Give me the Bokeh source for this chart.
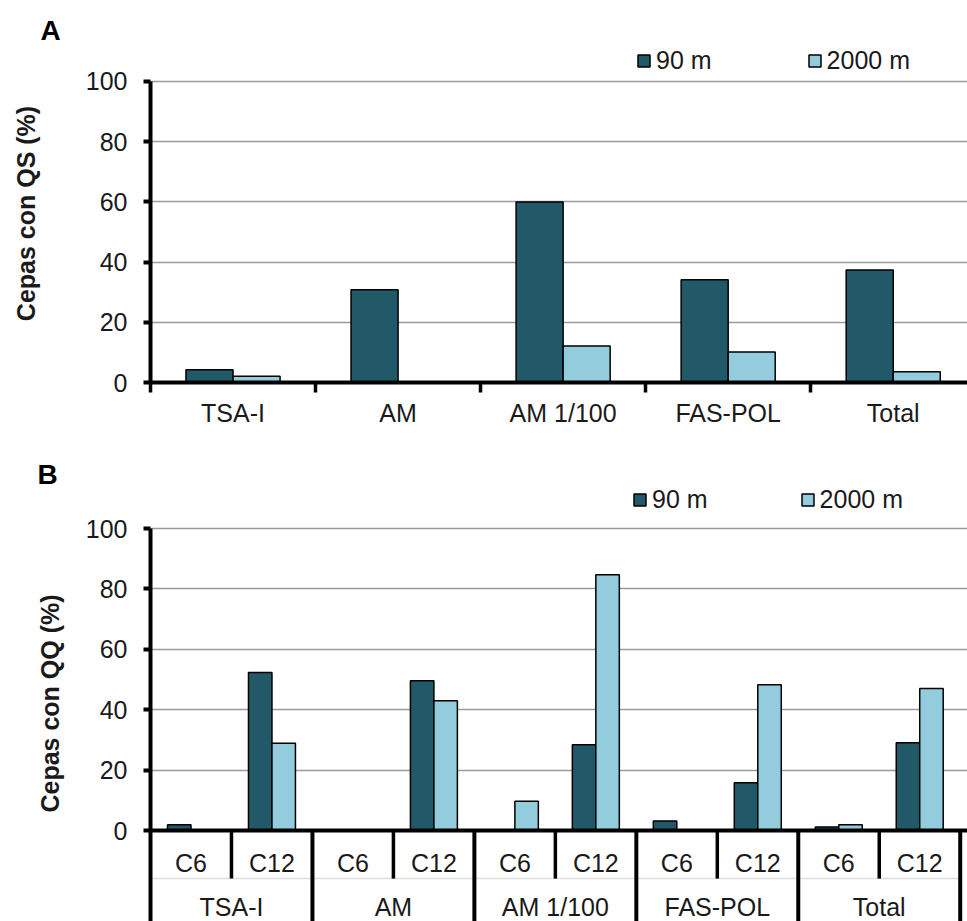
from bokeh.plotting import figure
from bokeh.layouts import column
from bokeh.models import Range1d, FixedTicker, Legend, LegendItem, Title
from bokeh.embed import file_html
from bokeh.resources import INLINE
from bokeh.core.properties import value
import numpy as np

# ---------------- data ----------------
groups = ["TSA-I", "AM", "AM 1/100", "FAS-POL", "Total"]
series = ["90 m", "2000 m"]
qs_90m = [4.2, 30.8, 60.0, 34.1, 37.4]
qs_2000m = [2.1, 0.0, 12.1, 10.1, 3.6]
compounds = ["C6", "C12"]
qq_90m = [1.9, 52.3, 0.0, 49.6, 0.0, 28.4, 3.2, 15.8, 1.2, 29.1]
qq_2000m = [0.0, 28.9, 0.0, 43.0, 9.7, 84.7, 0.0, 48.3, 1.9, 47.0]
y_ticks = [0, 20, 40, 60, 80, 100]
panel_titles = ["A", "B"]
y_labels = ["Cepas con QS (%)", "Cepas con QQ (%)"]

# ---------------- style ----------------
DARK = "#215968"
LIGHT = "#93CDDD"
FONT = "Liberation Sans"
TXT = "#1a1a1a"
FS = "25px"
W = 967


def style_y(p, label, standoff, lower):
    p.yaxis.ticker = FixedTicker(ticks=y_ticks)
    p.yaxis.bounds = (lower, y_ticks[-1])
    p.yaxis.axis_label = label
    p.yaxis.axis_label_text_font = FONT
    p.yaxis.axis_label_text_font_size = FS
    p.yaxis.axis_label_text_font_style = "bold"
    p.yaxis.axis_label_text_color = TXT
    p.yaxis.axis_label_standoff = standoff
    p.yaxis.major_label_text_font = FONT
    p.yaxis.major_label_text_font_size = FS
    p.yaxis.major_label_text_color = TXT
    p.yaxis.major_label_standoff = 16
    p.yaxis.axis_line_width = 4
    p.yaxis.axis_line_color = "black"
    p.yaxis.major_tick_out = 7
    p.yaxis.major_tick_in = 0
    p.yaxis.major_tick_line_width = 4
    p.yaxis.major_tick_line_color = "black"
    p.yaxis.minor_tick_line_color = None
    p.ygrid.ticker = FixedTicker(ticks=y_ticks[1:])
    p.ygrid.grid_line_color = "#9a9a9a"
    p.ygrid.grid_line_width = 1.5
    p.xgrid.visible = False
    p.outline_line_color = None


def add_header(p, r1, r2, title, legend_loc, spacing, title_offset, title_standoff):
    leg = Legend(
        items=[LegendItem(label=series[0], renderers=[r1]),
               LegendItem(label=series[1], renderers=[r2])],
        orientation="horizontal", location=legend_loc, spacing=spacing,
        glyph_width=15, glyph_height=15, label_standoff=5,
        label_text_font=FONT, label_text_font_size=FS, label_text_color=TXT,
        padding=0, margin=0, border_line_color=None, background_fill_alpha=0,
    )
    p.add_layout(leg)
    p.add_layout(Title(text=title, align="left", offset=title_offset,
                       standoff=title_standoff,
                       text_font=FONT, text_font_size="28px", text_font_style="bold",
                       text_color="black"), "above")


# ---------------- panel A ----------------
pa = figure(width=W, height=455, x_range=Range1d(0, 4.95), y_range=Range1d(0, 112.29),
            output_backend="svg", toolbar_location=None,
            min_border_left=150, min_border_right=0, min_border_top=44, min_border_bottom=73)
xa = np.arange(len(groups)) + 0.5
bw_a = 0.285
ra1 = pa.vbar(x=xa - bw_a / 2, top=qs_90m, width=bw_a, fill_color=DARK,
              line_color="black", line_width=1.5)
ra2 = pa.vbar(x=xa + bw_a / 2, top=qs_2000m, width=bw_a, fill_color=LIGHT,
              line_color="black", line_width=1.5)
style_y(pa, y_labels[0], 43, 0)
pa.xaxis.ticker = FixedTicker(ticks=[float(v) for v in xa],
                              minor_ticks=[float(v) for v in range(len(groups) + 1)])
pa.xaxis.major_label_overrides = {float(v): g for v, g in zip(xa, groups)}
pa.xaxis.major_label_text_font = FONT
pa.xaxis.major_label_text_font_size = FS
pa.xaxis.major_label_text_color = TXT
pa.xaxis.major_label_standoff = 6
pa.xaxis.major_tick_out = 0
pa.xaxis.major_tick_in = 0
pa.xaxis.major_tick_line_color = None
pa.xaxis.minor_tick_out = 10
pa.xaxis.minor_tick_in = 0
pa.xaxis.minor_tick_line_width = 3.5
pa.xaxis.minor_tick_line_color = "black"
pa.xaxis.axis_line_width = 4
pa.xaxis.axis_line_color = "black"
add_header(pa, ra1, ra2, panel_titles[0], (486, 307), 95, -110, -2)

# ---------------- panel B ----------------
n_b = len(groups) * len(compounds)
pb = figure(width=W, height=466, x_range=Range1d(0, 10.09), y_range=Range1d(-30.1, 114.24),
            x_axis_type=None, output_backend="svg", toolbar_location=None,
            min_border_left=150, min_border_right=0, min_border_top=30, min_border_bottom=0)
xb = np.arange(n_b) + 0.5
bw_b = 0.29
rb1 = pb.vbar(x=xb - bw_b / 2, top=qq_90m, width=bw_b, fill_color=DARK,
              line_color="black", line_width=1.5)
rb2 = pb.vbar(x=xb + bw_b / 2, top=qq_2000m, width=bw_b, fill_color=LIGHT,
              line_color="black", line_width=1.5)
y_bottom = pb.y_range.start
style_y(pb, y_labels[1], 19, y_bottom)

group_bounds = np.arange(1, len(groups) + 1) * len(compounds)
sub_bounds = np.arange(len(groups)) * len(compounds) + 1
pb.segment(x0=0, y0=-15.9, x1=n_b, y1=-15.9, line_color="#dddddd", line_width=1.5)
pb.segment(x0=0, y0=0, x1=pb.x_range.end, y1=0, line_color="black", line_width=4)
pb.segment(x0=group_bounds, y0=0, x1=group_bounds, y1=y_bottom,
           line_color="black", line_width=4)
pb.segment(x0=sub_bounds, y0=0, x1=sub_bounds, y1=-15.9,
           line_color="black", line_width=3.5)
pb.text(x=xb, y=[-10.6] * n_b, text=compounds * len(groups),
        text_font=value(FONT), text_font_size=value(FS), text_color=TXT,
        text_align="center", text_baseline="middle")
group_centers = np.arange(len(groups)) * len(compounds) + len(compounds) / 2
pb.text(x=group_centers, y=[-25.3] * len(groups), text=groups,
        text_font=value(FONT), text_font_size=value(FS), text_color=TXT,
        text_align="center", text_baseline="middle")
add_header(pb, rb1, rb2, panel_titles[1], (482, 407), 92, -113, -8)

layout = column(pa, pb, spacing=0)
open("out.html", "w").write(file_html(layout, INLINE))
